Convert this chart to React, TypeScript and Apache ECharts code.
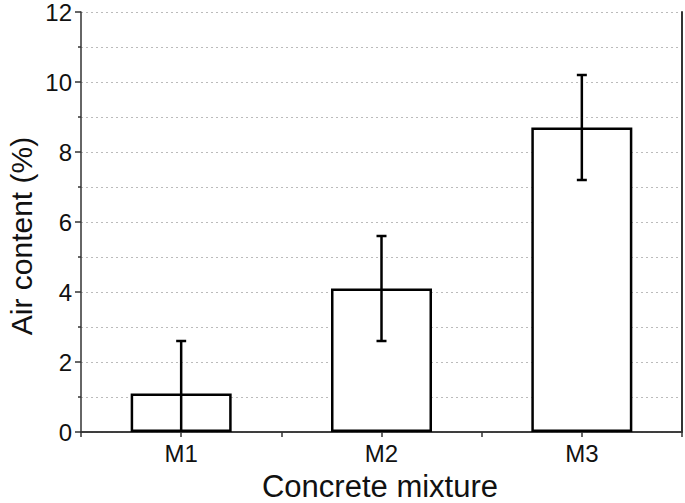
import React, { useEffect, useRef } from "react";
import * as echarts from "echarts";

const categories = ["M1", "M2", "M3"];
const airContent = [1.1, 4.1, 8.7];
const airError = [1.5, 1.5, 1.5];
const yTicks = [0, 2, 4, 6, 8, 10, 12];

const FONT = "'Liberation Sans', Arial, Helvetica, sans-serif";

export default function App() {
  const ref = useRef<HTMLDivElement>(null);
  useEffect(() => {
    if (!ref.current) return;
    const chart = echarts.init(ref.current, null, { renderer: "svg" });
    const barData = airContent.map((v, i) => [i + 1, v]);
    const errData = airContent.map((v, i) => [i + 1, v - airError[i], v + airError[i]]);
    const axisColor = "#333";
    chart.setOption({
      animation: false,
      backgroundColor: "#fff",
      textStyle: { fontFamily: FONT },
      grid: { left: 81, top: 11, right: 2, bottom: 71, containLabel: false },
      xAxis: [
        {
          type: "value",
          min: 0.5,
          max: 3.5,
          interval: 0.5,
          axisLine: { show: true, onZero: false, lineStyle: { color: axisColor, width: 1.5 } },
          axisTick: { show: true, inside: false, length: 5, lineStyle: { color: axisColor, width: 1.5 } },
          axisLabel: {
            show: true,
            margin: 9,
            fontSize: 24,
            color: "#111",
            fontFamily: FONT,
            showMinLabel: true,
            showMaxLabel: true,
            formatter: (v: number) => {
              const idx = Math.round(v) - 1;
              return Math.abs(v - Math.round(v)) < 1e-6 && categories[idx] ? categories[idx] : "";
            },
          },
          splitLine: { show: false },
        },
        {
          type: "value",
          position: "top",
          min: 0.5,
          max: 3.5,
          axisLine: { show: true, lineStyle: { color: axisColor, width: 1.5 } },
          axisTick: { show: false },
          axisLabel: { show: false },
          splitLine: { show: false },
        },
      ],
      yAxis: [
        {
          type: "value",
          min: yTicks[0],
          max: yTicks[yTicks.length - 1],
          interval: 2,
          axisLine: { show: true, onZero: false, lineStyle: { color: axisColor, width: 1.5 } },
          axisTick: { show: true, inside: false, length: 6, lineStyle: { color: axisColor, width: 1.5 } },
          minorTick: { show: true, splitNumber: 2, length: 3, lineStyle: { color: axisColor, width: 1.5 } },
          axisLabel: { fontSize: 24, color: "#111", margin: 9, fontFamily: FONT },
          splitLine: { show: true, lineStyle: { color: "#bbb", type: [2, 3], width: 1 } },
          minorSplitLine: { show: true, lineStyle: { color: "#bbb", type: [2, 3], width: 1 } },
        },
        {
          type: "value",
          position: "right",
          min: yTicks[0],
          max: yTicks[yTicks.length - 1],
          interval: 2,
          axisLine: { show: true, lineStyle: { color: axisColor, width: 2 } },
          axisTick: { show: false },
          axisLabel: { show: false },
          splitLine: { show: false },
        },
      ],
      series: [
        {
          type: "bar",
          data: barData,
          barWidth: 101,
          itemStyle: { color: "#fff", borderColor: "#000", borderWidth: 2.5 },
          z: 2,
        },
        {
          type: "custom",
          data: errData,
          clip: true,
          z: 3,
          renderItem: (params: any, api: any) => {
            const x = api.value(0);
            const lo = api.value(1);
            const hi = api.value(2);
            const pLo = api.coord([x, lo]);
            const pHi = api.coord([x, hi]);
            const cap = 5;
            const style = { stroke: "#000", lineWidth: 2.5 };
            return {
              type: "group",
              children: [
                { type: "line", shape: { x1: pLo[0], y1: pLo[1], x2: pHi[0], y2: pHi[1] }, style },
                { type: "line", shape: { x1: pHi[0] - cap, y1: pHi[1], x2: pHi[0] + cap, y2: pHi[1] }, style },
                { type: "line", shape: { x1: pLo[0] - cap, y1: pLo[1], x2: pLo[0] + cap, y2: pLo[1] }, style },
              ],
            };
          },
        },
      ],
      graphic: [
        {
          type: "text",
          x: 380,
          y: 486,
          style: {
            text: "Concrete mixture",
            font: `31px ${FONT}`,
            lineHeight: 28,
            fill: "#111",
            align: "center",
            verticalAlign: "middle",
          },
        },
        {
          type: "text",
          x: 21,
          y: 236,
          rotation: Math.PI / 2,
          style: {
            text: "Air content (%)",
            font: `30px ${FONT}`,
            fill: "#111",
            align: "center",
            verticalAlign: "middle",
          },
        },
      ],
    });
    return () => chart.dispose();
  }, []);
  return <div ref={ref} style={{ width: 685, height: 503, position: "absolute", left: 0, top: 0 }} />;
}
